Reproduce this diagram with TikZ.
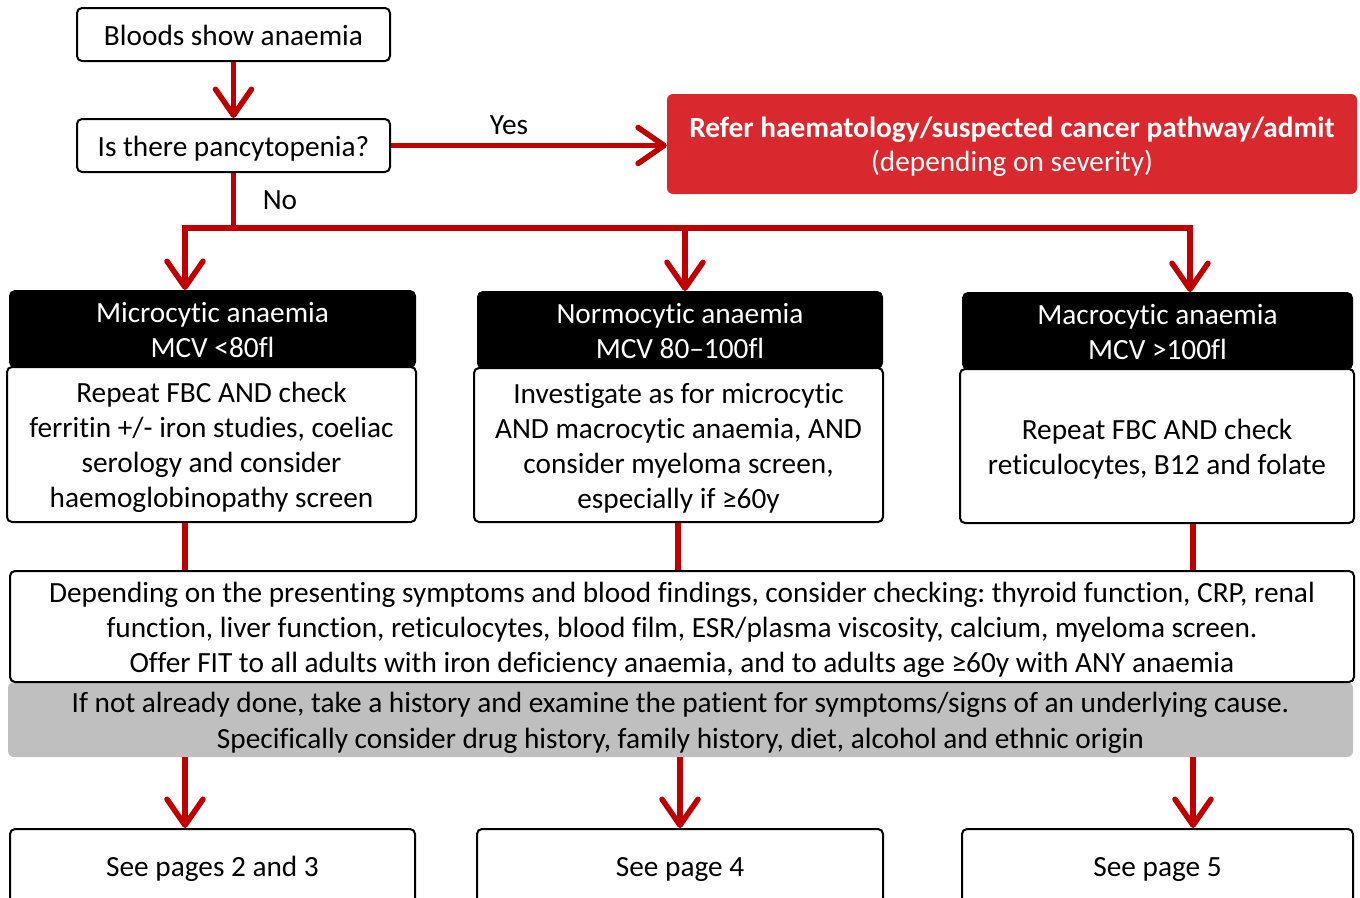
\documentclass[tikz,border=0pt]{standalone}
\usepackage{fontspec}
\setmainfont{Carlito}[Ligatures=NoCommon]
\usetikzlibrary{arrows.meta}
\definecolor{lred}{RGB}{192,0,0}
\definecolor{bred}{RGB}{217,41,46}
\definecolor{gbox}{RGB}{191,191,191}
\newcommand{\fsz}{\fontsize{29.3}{35}\selectfont\frenchspacing}
\newcommand{\sst}{\rule[-6.8pt]{0pt}{35pt}}
\tikzset{
  txtbase/.style={align=center, font=\fsz, inner sep=0, execute at begin node=\sst, execute at end node=\sst},
  box/.style={txtbase, draw=black, line width=2, rounded corners=5, fill=white},
  hdr/.style={txtbase, draw=black, line width=2, rounded corners=5, fill=black, text=white},
  greybox/.style={txtbase, fill=gbox, rounded corners=6},
  referbox/.style={txtbase, fill=bred, rounded corners=6, text=white},
  lbl/.style={font=\fsz, inner sep=0},
  arr/.style={draw=lred, line width=5.5, -{Straight Barb[length=26,width=36,line cap=round,line join=round]}},
  ln/.style={draw=lred, line width=5.5},
}
\begin{document}
\begin{tikzpicture}[x=1pt,y=-1pt]
\useasboundingbox (0,0) rectangle (1360,897);
\clip (0,0) rectangle (1360,897);
\fill[white] (0,0) rectangle (1360,897);

% top
\node[box, minimum width=313, minimum height=53] (b1) at (233.5,34.5) {Bloods show anaemia};
\node[box, minimum width=313, minimum height=53] (b2) at (233.5,145.5) {Is there pancytopenia?};
\node[referbox, minimum width=690, minimum height=100] (ref) at (1012,144)
  {\sst\textbf{Refer haematology/suspected cancer pathway/admit}\\[-1pt]\sst(depending on severity)\sst};

\draw[arr] (b1) -- (b2);
\draw[arr] (b2.east) -- (ref.west |- b2.east);
\node[lbl] (yes) at (509,125) {Yes};
\node[lbl] (no) at (280,200) {No};

% branch
\coordinate (split) at (233.5,228);
\coordinate (d1) at (185,0);
\coordinate (d2) at (685,0);
\coordinate (d3) at (1190,0);

% headers
\node[hdr, minimum width=405, minimum height=76] (mich) at (212.5,329) {\sst Microcytic anaemia\\\sst MCV <80fl\sst};
\node[hdr, minimum width=404, minimum height=76] (norh) at (680,330) {\sst Normocytic anaemia\\\sst MCV 80–100fl\sst};
\node[hdr, minimum width=389, minimum height=76] (mach) at (1157.5,331) {\sst Macrocytic anaemia\\\sst MCV >100fl\sst};

% bodies
\node[box, minimum width=409, minimum height=155] (micb) at (211.5,444.5)
  {\sst Repeat FBC AND check\\\sst ferritin +/- iron studies, coeliac\\\sst serology and consider\\\sst haemoglobinopathy screen\sst};
\node[box, minimum width=409, minimum height=154] (norb) at (678.5,445)
  {\sst Investigate as for microcytic\\\sst AND macrocytic anaemia, AND\\\sst consider myeloma screen,\\\sst especially if ≥60y\sst};
\node[box, minimum width=394, minimum height=154] (macb) at (1157,446)
  {\sst Repeat FBC AND check\\\sst reticulocytes, B12 and folate\sst};

\draw[ln] (b2) -- (split);
\draw[arr] (split) -| (mich.north -| d1);
\draw[arr] (split) -| (norh.north -| d2);
\draw[arr] (split) -| (mach.north -| d3);

% grey and big box
\node[greybox, minimum width=1345, minimum height=75] (grey) at (680.5,719.5)
  {\sst If not already done, take a history and examine the patient for symptoms/signs of an underlying cause.\\[1pt]\sst Specifically consider drug history, family history, diet, alcohol and ethnic origin\sst};
\node[box, minimum width=1344, minimum height=111] (big) at (682,626.5)
  {\sst Depending on the presenting symptoms and blood findings, consider checking: thyroid function, CRP, renal\\\sst function, liver function, reticulocytes, blood film, ESR/plasma viscosity, calcium, myeloma screen.\\\sst Offer FIT to all adults with iron deficiency anaemia, and to adults age ≥60y with ANY anaemia\sst};

\coordinate (e1) at (185,0);
\coordinate (e2) at (678,0);
\coordinate (e3) at (1193,0);
\draw[ln] (micb.south -| e1) -- (big.north -| e1);
\draw[ln] (norb.south -| e2) -- (big.north -| e2);
\draw[ln] (macb.south -| e3) -- (big.north -| e3);

% bottom
\node[box, minimum width=405, minimum height=74] (p1) at (212.5,866) {See pages 2 and 3};
\node[box, minimum width=406, minimum height=74] (p2) at (680,866) {See page 4};
\node[box, minimum width=391, minimum height=74] (p3) at (1157.5,866) {See page 5};

\coordinate (f1) at (185,0);
\coordinate (f2) at (680,0);
\coordinate (f3) at (1193,0);
\draw[arr] (grey.south -| f1) -- (p1.north -| f1);
\draw[arr] (grey.south -| f2) -- (p2.north -| f2);
\draw[arr] (grey.south -| f3) -- (p3.north -| f3);
\end{tikzpicture}
\end{document}
